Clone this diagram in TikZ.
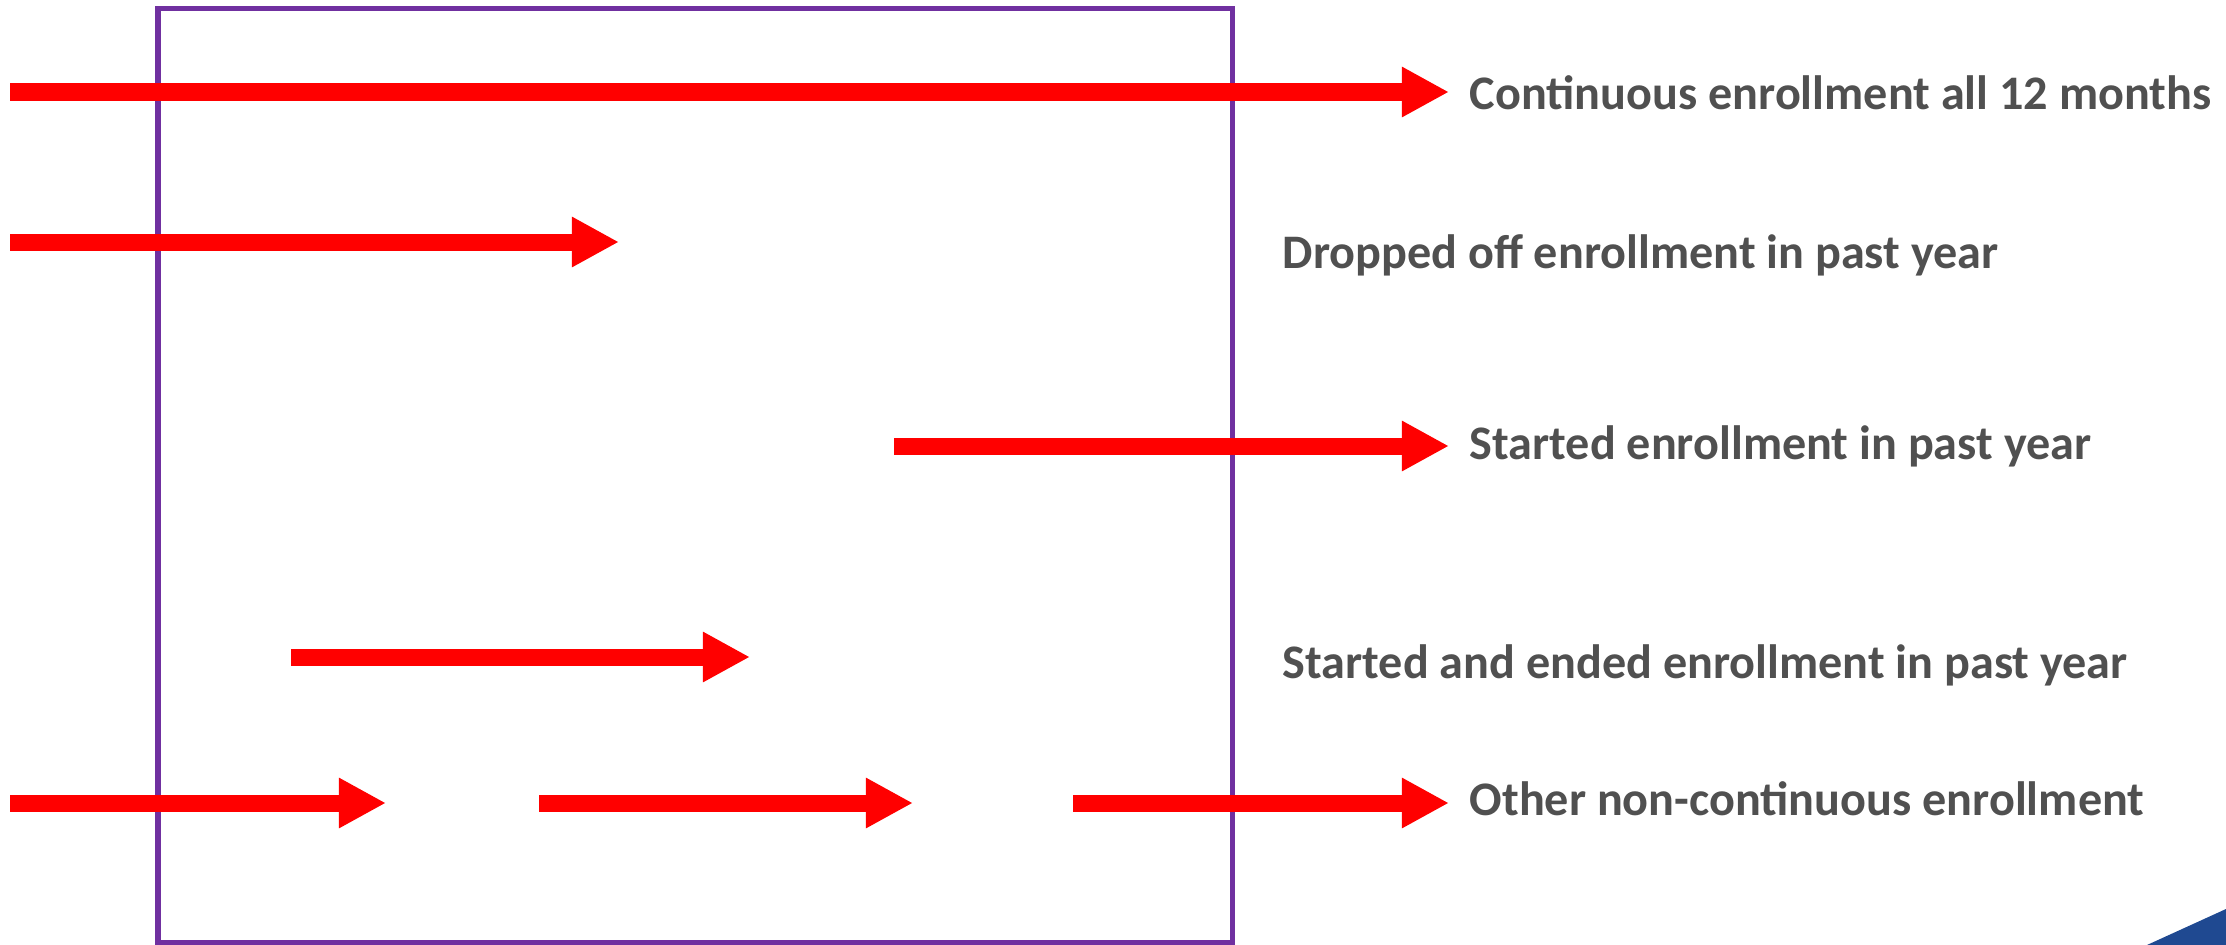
\documentclass[tikz,border=0pt]{standalone}
\usepackage{fontspec}
\setmainfont{Carlito}
\usetikzlibrary{arrows.meta}

\definecolor{enrRed}{RGB}{255,0,0}
\definecolor{yearPurple}{RGB}{112,48,160}
\definecolor{labelGray}{RGB}{80,80,80}
\definecolor{cornerBlue}{RGB}{31,73,145}

\tikzset{
  span/.style={draw=enrRed, line width=0.17cm, -{Triangle[length=0.47cm, width=0.47cm]}},
  spanlabel/.style={anchor=base west, inner sep=0pt, text=labelGray,
    font=\fontsize{13.7}{16}\selectfont\bfseries}
}

\begin{document}
\begin{tikzpicture}[x=0.01cm, y=-0.01cm]
\useasboundingbox (0,0) rectangle (2226,945);

% Khung 12 tháng
\draw[yearPurple, line width=0.05cm] (158,8) rectangle (1232,942);

% Điểm đầu và cuối các mũi tên
\coordinate (contS) at (10,92);   \coordinate (contE) at (1449,92);
\coordinate (dropS) at (10,242);  \coordinate (dropE) at (619,242);
\coordinate (startS) at (894,446); \coordinate (startE) at (1449,446);
\coordinate (bothS) at (291,657); \coordinate (bothE) at (750,657);
\coordinate (otherAS) at (10,803);   \coordinate (otherAE) at (386,803);
\coordinate (otherBS) at (539,803);  \coordinate (otherBE) at (913,803);
\coordinate (otherCS) at (1073,803); \coordinate (otherCE) at (1449,803);

% Vẽ các mũi tên
\draw[span] (contS) -- (contE);
\draw[span] (dropS) -- (dropE);
\draw[span] (startS) -- (startE);
\draw[span] (bothS) -- (bothE);
\draw[span] (otherAS) -- (otherAE);
\draw[span] (otherBS) -- (otherBE);
\draw[span] (otherCS) -- (otherCE);

% Nhãn
\node[spanlabel] (contL) at (1469,109) {Continuous enrollment all 12 months};
\node[spanlabel] (dropL) at (1282,268) {Dropped off enrollment in past year};
\node[spanlabel] (startL) at (1469,459) {Started enrollment in past year};
\node[spanlabel] (bothL) at (1282,678) {Started and ended enrollment in past year};
\node[spanlabel] (otherL) at (1469,815) {Other non-continuous enrollment};

% Góc xanh
\fill[cornerBlue] (2147,945) -- (2226,909) -- (2226,945) -- cycle;
\end{tikzpicture}
\end{document}
